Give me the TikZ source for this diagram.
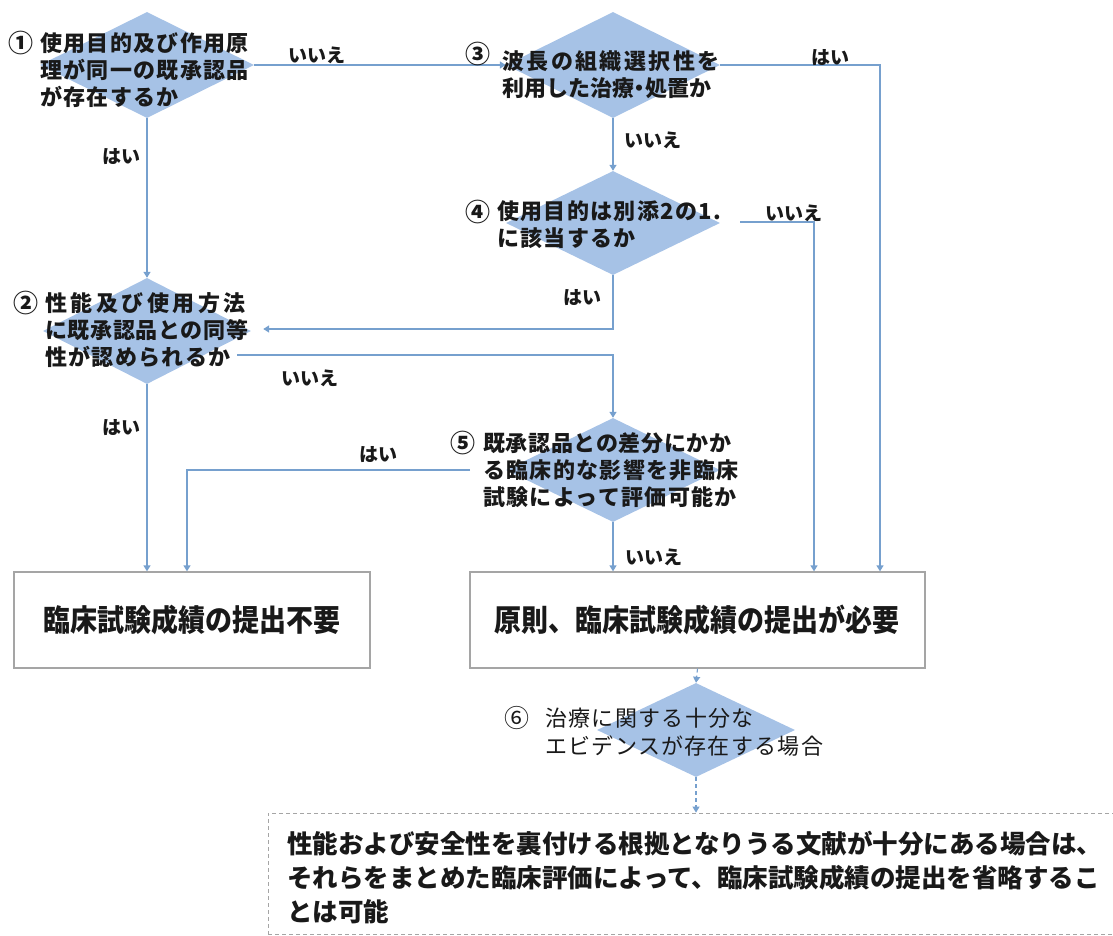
\documentclass[tikz,border=0pt]{standalone}
\usepackage{fontspec}
\usepackage{graphicx}
\newfontfamily\jp{Noto Sans CJK JP}
\usetikzlibrary{shapes.geometric,arrows.meta}
\definecolor{dfill}{RGB}{166,194,230}
\definecolor{lineblue}{RGB}{118,160,206}
\definecolor{boxgray}{RGB}{165,165,165}
\definecolor{txt}{RGB}{25,25,25}
\tikzset{
  dia/.style={diamond, fill=dfill, draw=none, inner sep=0pt},
  qbox/.style={rectangle, draw=boxgray, line width=1.3pt, fill=white, inner sep=0pt},
  dbox/.style={rectangle, draw=boxgray, line width=0.8pt, dash pattern=on 4pt off 3pt, inner sep=0pt},
  lab/.style={font=\jp\bfseries\fontsize{19}{19}\selectfont, text=txt, inner sep=0pt},
  num/.style={font=\jp\bfseries\fontsize{25}{25}\selectfont, text=txt, inner sep=0pt},
  qtext/.style={align=left, anchor=west, inner sep=0pt, text=txt,
    font=\jp\bfseries\fontsize{22}{27}\selectfont\addfontfeature{LetterSpace=6}},
  conn/.style={draw=lineblue, line width=1.4pt, -{Triangle[width=7pt,length=6pt]}},
  dconn/.style={draw=lineblue, line width=1.1pt, dash pattern=on 4pt off 3pt, -{Triangle[width=7pt,length=6pt]}},
}
\begin{document}
\begin{tikzpicture}[x=1pt,y=-1pt]
\useasboundingbox (0,0) rectangle (1113,936);
\clip (0,0) rectangle (1113,936);
% diamonds
\node[dia, minimum width=214pt, minimum height=106pt] (d1) at (147,65) {};
\node[dia, minimum width=214pt, minimum height=106pt] (d3) at (613,65) {};
\node[dia, minimum width=214pt, minimum height=104pt] (d4) at (613,223) {};
\node[dia, minimum width=208pt, minimum height=106pt] (d2) at (147,331) {};
\node[dia, minimum width=214pt, minimum height=104pt] (d5) at (613,470) {};
\node[dia, minimum width=198pt, minimum height=94pt] (d6) at (696,730) {};
% boxes
\node[qbox, minimum width=356pt, minimum height=96pt] (b1) at (192,620) {};
\node[qbox, minimum width=455pt, minimum height=96pt] (b2) at (697.5,620) {};
\node[dbox, minimum width=857pt, minimum height=121pt] (b3) at (696.5,873.5) {};
% coordinates
\coordinate (c3) at (880,65);
\coordinate (c4a) at (740,222);
\coordinate (c4b) at (814,222);
\coordinate (c4c) at (613,329);
\coordinate (c2a) at (237,355);
\coordinate (c5a) at (470,470);
\coordinate (c5b) at (187,470);
% connectors
\draw[conn] (d1.east) -- (d3.west);
\draw[conn] (d3.east) -- (c3) -- (c3 |- b2.north);
\draw[conn] (d3.south) -- (d4.north);
\draw[conn] (c4a) -- (c4b) -- (c4b |- b2.north);
\draw[conn, shorten >=12pt] (d4.south) -- (c4c) -- (c4c -| d2.east);
\draw[conn] (c2a) -- (c2a -| d5.north) -- (d5.north);
\draw[conn] (d2.south) -- (d2.south |- b1.north);
\draw[conn] (d1.south) -- (d2.north);
\draw[conn] (c5a) -- (c5b) -- (c5b |- b1.north);
\draw[conn] (d5.south) -- (d5.south |- b2.north);
\draw[dconn] (b2.south) -- (d6.north);
\draw[dconn] (d6.south) -- (d6.south |- b3.north);
% question texts
\node[num] (n1) at (21,43) {①};
\node[qtext] (t1) at (40,70) {使用目的及び作用原\\理が同一の既承認品\\が存在するか};
\node[num] (n3) at (478,54) {③};
\node[qtext] (t3) at (502,75) {\addfontfeature{LetterSpace=11}波長の組織選択性を\\\addfontfeature{LetterSpace=0}利用した治療{\addfontfeature{RawFeature=+palt}・}処置か};
\node[num] (n4) at (478,212) {④};
\node[qtext] (t4) at (497,225) {使用目的は別添2の1.\\に該当するか};
\node[num] (n2) at (26,303) {②};
\node[qtext] (t2) at (45,330) {\addfontfeature{LetterSpace=16}性能及び使用方法\\\addfontfeature{LetterSpace=3}に既承認品との同等\\性が認められるか};
\node[num] (n5) at (463,443) {⑤};
\node[qtext] (t5) at (483,470) {\addfontfeature{LetterSpace=3}既承認品との差分にかか\\る臨床的な影響を非臨床\\試験によって評価可能か};
\node[num, font=\jp\fontsize{25}{25}\selectfont] (n6) at (517,718) {⑥};
\node[qtext, font=\jp\fontsize{22}{28}\selectfont\addfontfeature{LetterSpace=6}] (t6) at (545,732) {治療に関する十分な\\エビデンスが存在する場合};
% box texts
\node[font=\jp\bfseries\fontsize{27}{27}\selectfont, text=txt, inner sep=0pt] (bt1) at (192,620) {\scalebox{1}[1.12]{臨床試験成績の提出不要}};
\node[font=\jp\bfseries\fontsize{27}{27}\selectfont, text=txt, inner sep=0pt] (bt2) at (697,620) {\scalebox{1}[1.12]{原則、臨床試験成績の提出が必要}};
\node[qtext, font=\jp\bfseries\fontsize{25.5}{34}\selectfont] (bt3) at (287,878) {性能および安全性を裏付ける根拠となりうる文献が十分にある場合は、\\それらをまとめた臨床評価によって、臨床試験成績の提出を省略するこ\\とは可能};
% labels
\node[lab] (l1) at (317,55) {いいえ};
\node[lab] (l2) at (121,157) {はい};
\node[lab] (l3) at (830,58) {はい};
\node[lab] (l4) at (653,140) {いいえ};
\node[lab] (l5) at (794,213) {いいえ};
\node[lab] (l6) at (582,298) {はい};
\node[lab] (l7) at (310,378) {いいえ};
\node[lab] (l8) at (121,428) {はい};
\node[lab] (l9) at (378,455) {はい};
\node[lab] (l10) at (654,557) {いいえ};
\end{tikzpicture}
\end{document}
